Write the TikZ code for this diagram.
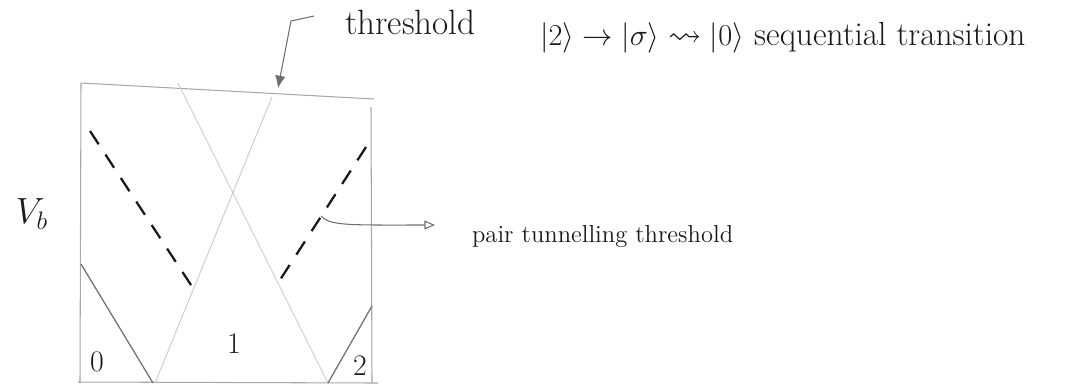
\documentclass[tikz,border=0pt]{standalone}
\usepackage{amssymb}
\usepackage{tikz}
\usetikzlibrary{arrows.meta}
\usepackage{xcolor}
\definecolor{pencilgray}{HTML}{A8A8A8}
\definecolor{faintgray}{HTML}{C8C8C8}
\definecolor{leadgray}{HTML}{6E6E6E}
\definecolor{inkblack}{HTML}{1A1A1A}

\begin{document}
\begin{tikzpicture}[x=0.02cm, y=-0.02cm,
    pencil/.style={pencilgray, line width=0.6pt},
    faint/.style={faintgray, line width=0.5pt},
    boundary/.style={leadgray, line width=0.7pt},
    pairline/.style={inkblack, line width=1.3pt, dash pattern=on 9pt off 7pt},
    pointer/.style={leadgray, line width=0.6pt},
    hand/.style={inkblack, inner sep=1pt}]

\useasboundingbox (0,0) rectangle (1074,387);

% Box
\draw[pencil] (81,83) -- (374,99);
\draw[pencil] (81,83) -- (80,383);
\draw[pencil] (371,107) -- (372,383);
\draw[pencil] (78,382) -- (378,383);

% Faint lines
\draw[faint] (178,83) -- (328,383);
\draw[faint] (272,97) -- (155,383);

% Solid boundaries
\draw[boundary] (81,264) -- (153,383);
\draw[boundary] (328,383) -- (372,306);

% Dashed pair lines
\draw[pairline] (90,131) -- (191,285);
\draw[pairline] (366,147) -- (278,283);

% ---------- Labels ----------
\node[hand, font=\fontsize{20}{24}\selectfont] (vb) at (32,214) {$V_b$};
\node[hand, font=\fontsize{17}{20}\selectfont] (n0) at (97,362) {0};
\node[hand, font=\fontsize{17}{20}\selectfont] (n1) at (234,344) {1};
\node[hand, font=\fontsize{17}{20}\selectfont] (n2) at (360,366) {2};

\node[hand, font=\fontsize{20}{24}\selectfont, anchor=west] (thrlabel) at (343,22) {threshold};
\node[hand, font=\fontsize{19}{23}\selectfont, anchor=west] (seqlabel) at (538,38)
    {$|2\rangle \rightarrow |\sigma\rangle \rightsquigarrow |0\rangle$ sequential transition};
\node[hand, font=\fontsize{14}{17}\selectfont, anchor=west] (pairlabel) at (470,236) {pair tunnelling threshold};

% ---------- Pointers ----------
\coordinate (thrtail) at (314,16);
\coordinate (thrtip) at (278,88);
\draw[pointer, -{Latex[length=7pt, width=6pt]}] (thrtail) -- (291,21) -- (thrtip);

\coordinate (pairtail) at (321,216);
\coordinate (pairtip) at (435,225);
\draw[pointer, -{Triangle[open, length=6pt, width=5pt]}] (pairtail) .. controls (330,226) and (350,225) .. (pairtip);

\end{tikzpicture}
\end{document}
